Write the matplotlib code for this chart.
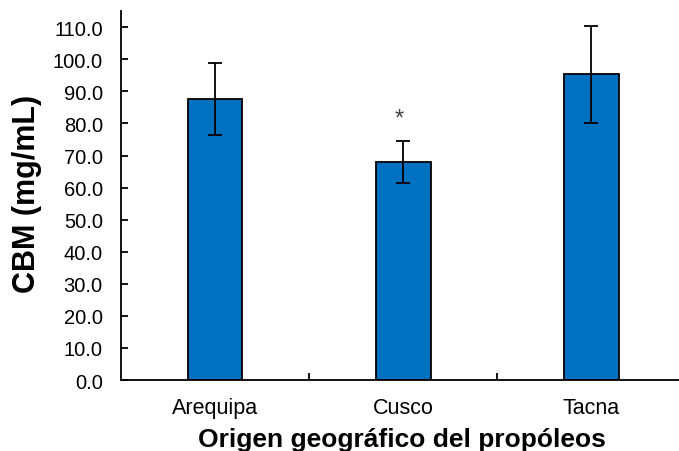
import matplotlib
matplotlib.use('Agg')
import matplotlib.pyplot as plt
from matplotlib.ticker import FormatStrFormatter, FixedLocator

plt.rcParams['font.family'] = ['Liberation Sans', 'DejaVu Sans']

regions = ['Arequipa', 'Cusco', 'Tacna']
cbm = [87.5, 68.0, 95.3]
err = [11.2, 6.5, 15.1]
marks = ['', '*', '']

fig = plt.figure(figsize=(6.79, 4.52), dpi=100)
ax = fig.add_axes([0.178, 0.157, 0.822, 0.816])

x = range(len(regions))
ax.bar(x, cbm, width=0.29, color='#0070C0', edgecolor='black', linewidth=1.3, zorder=2)
ax.errorbar(x, cbm, yerr=err, fmt='none', ecolor='black', elinewidth=1.3,
            capsize=5, capthick=1.3, zorder=3)
for i in x:
    if marks[i]:
        ax.text(i - 0.02, cbm[i] + err[i] + 7, marks[i], ha='center', va='center',
                fontsize=17, color='#404040')

ax.set_xlim(-0.5, 2.465)
ax.set_ylim(0, 115)
ax.set_yticks([i * 10 for i in range(12)])
ax.yaxis.set_major_formatter(FormatStrFormatter('%.1f'))
ax.set_xticks(list(x))
ax.set_xticklabels(regions)
ax.xaxis.set_minor_locator(FixedLocator([0.5, 1.5]))
ax.tick_params(axis='x', which='major', length=0, labelsize=15.5, pad=12)
ax.tick_params(axis='x', which='minor', direction='in', length=5, width=1.3)
ax.tick_params(axis='y', direction='in', length=5, width=1.3, labelsize=14.5, pad=13)

for s in ['top', 'right']:
    ax.spines[s].set_visible(False)
for s in ['left', 'bottom']:
    ax.spines[s].set_linewidth(1.3)

fig.text(27 / 679, 0.57, 'CBM (mg/mL)', rotation=90, ha='center', va='center',
         fontsize=22, fontweight='bold')
fig.text(402 / 679, 1 - 447 / 452, 'Origen geográfico del propóleos', ha='center',
         va='baseline', fontsize=19, fontweight='bold')

fig.savefig('out.png', dpi=100)
